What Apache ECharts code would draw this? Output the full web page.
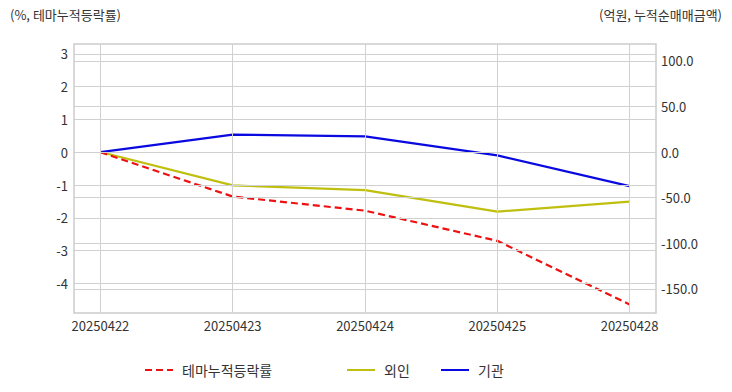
<!DOCTYPE html>
<html>
<head>
<meta charset="utf-8">
<script src="https://cdn.jsdelivr.net/npm/echarts@6/dist/echarts.min.js"></script>
<style>
html,body{margin:0;padding:0;background:#fff;}
#chart{width:732px;height:392px;}
</style>
</head>
<body>
<div id="chart"></div>
<script>
var dates = ['20250422', '20250423', '20250424', '20250425', '20250428'];
var themeReturn = [0, -1.35, -1.78, -2.70, -4.64];
var foreign = [0, -36.6, -41.7, -65.3, -54.4];
var institution = [0, 19.1, 17.1, -3.6, -37.4];
var leftTicks = [3, 2, 1, 0, -1, -2, -3, -4];
var rightTicks = [100, 50, 0, -50, -100, -150];

var FONT = '"Noto Sans CJK KR", "Noto Sans", sans-serif';
var GRIDC = '#d0d0d0';
function pairs(arr) { return arr.map(function (v, i) { return [i, v]; }); }
function isInt(v) { return Math.abs(v - Math.round(v)) < 1e-6; }
function near(list, v) { for (var i = 0; i < list.length; i++) { if (Math.abs(list[i] - v) < 1e-6) return list[i]; } return null; }

var gridLineStyle = { color: GRIDC, width: 1, type: 'solid' };
function gridMark(items) {
  return { silent: true, symbol: ['none', 'none'], label: { show: false }, lineStyle: gridLineStyle,
           emphasis: { disabled: true }, animation: false, data: items };
}

var chart = echarts.init(document.getElementById('chart'), null, { renderer: 'svg' });
var legendBase = {
  top: 358, itemWidth: 28, itemHeight: 10,
  itemStyle: { opacity: 0 },
  textStyle: { fontFamily: FONT, fontSize: 14, color: '#333', padding: [0, 0, 0, 4] }
};
chart.setOption({
  animation: false,
  backgroundColor: '#fff',
  textStyle: { fontFamily: FONT },
  graphic: [
    { type: 'text', left: 10, top: 8, style: { text: '(%, 테마누적등락률)', font: '13px ' + FONT, fill: '#333' } },
    { type: 'text', right: 10, top: 8, style: { text: '(억원, 누적순매매금액)', font: '13px ' + FONT, fill: '#333' } }
  ],
  legend: [
    Object.assign({}, legendBase, { left: 139, data: ['테마누적등락률'] }),
    Object.assign({}, legendBase, { left: 341, data: ['외인'] }),
    Object.assign({}, legendBase, { left: 435, data: ['기관'] })
  ],
  grid: { left: 74, right: 76, top: 44, bottom: 79, show: true, borderColor: '#cccccc', borderWidth: 1.5 },
  xAxis: {
    type: 'value', min: -0.2, max: 4.2, interval: 0.2,
    axisLine: { show: false }, axisTick: { show: false },
    splitLine: { show: false },
    axisLabel: {
      margin: 6, fontSize: 13, color: '#333', fontFamily: FONT,
      formatter: function (v) { return (isInt(v) && v >= 0 && v <= 4) ? dates[Math.round(v)] : ''; }
    }
  },
  yAxis: [
    {
      type: 'value', min: -4.9, max: 3.3, interval: 0.1,
      axisLine: { show: false }, axisTick: { show: false },
      splitLine: { show: false },
      axisLabel: {
        margin: 6, fontSize: 13, color: '#333', fontFamily: FONT,
        formatter: function (v) { var t = near(leftTicks, v); return t === null ? '' : String(t); }
      }
    },
    {
      type: 'value', min: -176.5, max: 118.5, interval: 0.5,
      axisLine: { show: false }, axisTick: { show: false },
      splitLine: { show: false },
      axisLabel: {
        margin: 5, fontSize: 13, color: '#333', fontFamily: FONT,
        formatter: function (v) { var t = near(rightTicks, v); return t === null ? '' : t.toFixed(1); }
      }
    }
  ],
  series: [
    {
      name: 'grid-left', type: 'line', yAxisIndex: 0, data: [], z: 1, silent: true,
      markLine: gridMark(
        leftTicks.map(function (t) { return { yAxis: t }; })
          .concat(dates.map(function (d, i) { return { xAxis: i }; }))
      )
    },
    {
      name: 'grid-right', type: 'line', yAxisIndex: 1, data: [], z: 1, silent: true,
      markLine: gridMark(rightTicks.map(function (t) { return { yAxis: t }; }))
    },
    {
      name: '테마누적등락률', type: 'line', yAxisIndex: 0, data: pairs(themeReturn),
      symbol: 'none', lineStyle: { color: '#ee1111', width: 2.2, type: [7, 4] }, itemStyle: { color: '#ee1111' }, z: 4
    },
    {
      name: '외인', type: 'line', yAxisIndex: 1, data: pairs(foreign),
      symbol: 'none', lineStyle: { color: '#bfbf10', width: 2.2 }, itemStyle: { color: '#bfbf10' }, z: 3
    },
    {
      name: '기관', type: 'line', yAxisIndex: 1, data: pairs(institution),
      symbol: 'none', lineStyle: { color: '#0a0ae0', width: 2.2 }, itemStyle: { color: '#0a0ae0' }, z: 3
    }
  ]
});
</script>
</body>
</html>
